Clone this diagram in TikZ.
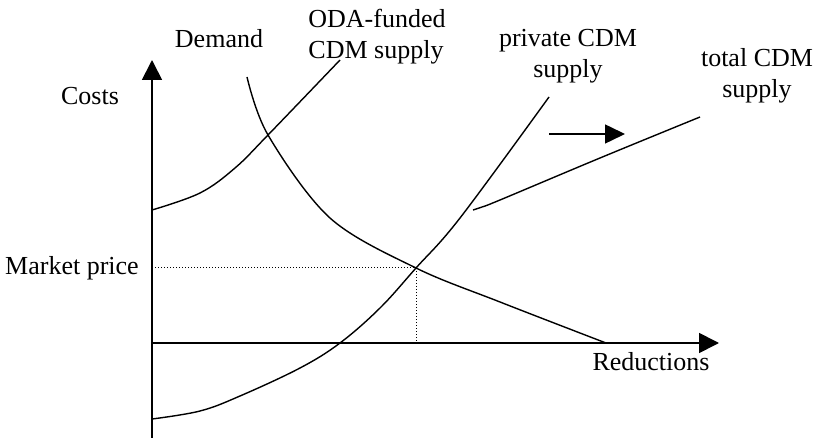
\documentclass[tikz,border=0pt]{standalone}
\usepackage{fontspec}
\setmainfont{Liberation Serif}
\usetikzlibrary{arrows.meta}
\begin{document}
\begin{tikzpicture}[x=1pt,y=-1pt,
  axis/.style={line width=1.7pt,-{Triangle[length=20pt,width=20pt]}},
  curve/.style={line width=1.4pt},
  guide/.style={line width=1pt,dash pattern=on 1pt off 2pt},
  lbl/.style={font=\fontsize{26}{30}\selectfont,inner sep=0pt,anchor=base,align=center}]
\useasboundingbox (0,0) rectangle (819,438);
% axes
\coordinate (ybot) at (152,438);
\coordinate (ytop) at (152,60);
\coordinate (xleft) at (152,343);
\coordinate (xright) at (719,343);
\draw[axis] (ybot) -- (ytop);
\draw[axis] (xleft) -- (xright);
% equilibrium
\coordinate (eq) at (416,268);
\coordinate (pleft) at (155,268);
\coordinate (qbot) at (416,343);
\draw[guide] (pleft) -- (eq) -- (qbot);
% curves
\draw[curve] plot[smooth,tension=0.55] coordinates {(247,77) (268,135) (330,218) (416,268) (500,302) (606,343)};
\draw[curve] plot[smooth,tension=0.6] coordinates {(152,419) (200,411) (240,396) (300,368) (340,343) (380,308) (416,268) (460,218) (549,97)};
\draw[curve] plot[smooth,tension=0.6] coordinates {(152,210) (200,193) (235,168) (268,135) (340,60)};
\draw[curve] plot[smooth,tension=0.6] coordinates {(473,210) (482,207) (500,200) (600,158) (700,117)};
% shift arrow
\coordinate (sa) at (549,134);
\coordinate (sb) at (625,134);
\draw[line width=1.5pt,-{Triangle[length=20pt,width=19pt]}] (sa) -- (sb);
% labels
\node[lbl] (demand) at (219,48) {Demand};
\node[lbl] (oda) at (377,28) {ODA-funded};
\node[lbl] (oda2) at (376,59) {CDM supply};
\node[lbl] (priv) at (568,47) {private CDM};
\node[lbl] (priv2) at (568,78) {supply};
\node[lbl] (tot) at (757,67) {total CDM};
\node[lbl] (tot2) at (757,98) {supply};
\node[lbl] (costs) at (90,105) {Costs};
\node[lbl] (mp) at (72,275) {Market price};
\node[lbl] (red) at (651,370) {Reductions};
\end{tikzpicture}
\end{document}
